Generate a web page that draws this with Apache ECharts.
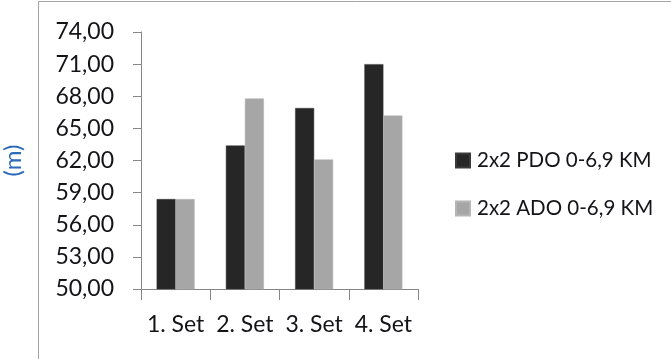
<!DOCTYPE html>
<html>
<head>
<meta charset="utf-8">
<script src="https://cdn.jsdelivr.net/npm/echarts@6/dist/echarts.min.js"></script>
<style>
  html, body { margin: 0; padding: 0; background: #ffffff; }
  #chart { width: 671px; height: 359px; }
</style>
</head>
<body>
<div id="chart"></div>
<script>
// Categories and series values (metres)
const categories = ['1. Set', '2. Set', '3. Set', '4. Set'];
const pdoValues = [58.4, 63.4, 66.9, 71.0];
const adoValues = [58.4, 67.8, 62.1, 66.2];
const seriesNames = ['2x2 PDO 0-6,9 KM', '2x2 ADO 0-6,9 KM'];

// Value axis range and step
const yMin = 50;
const yMax = 74;
const yStep = 3;

const FONT = 'Lato, "Open Sans", sans-serif';
const TEXT = '#141418';

const chart = echarts.init(document.getElementById('chart'), null, { renderer: 'canvas' });

chart.setOption({
  animation: false,
  backgroundColor: '#ffffff',
  graphic: [{
    type: 'rect',
    shape: { x: 38.5, y: 1.5, width: 700, height: 400 },
    style: { fill: 'none', stroke: '#a3a3a3', lineWidth: 1 },
    silent: true
  }],
  grid: { left: 140, right: 253, top: 32, bottom: 70, containLabel: false },
  legend: {
    orient: 'vertical',
    left: 455,
    top: 150,
    padding: 0,
    itemWidth: 14,
    itemHeight: 14,
    itemGap: 27,
    icon: 'rect',
    textStyle: { fontFamily: FONT, fontSize: 20.5, color: TEXT, padding: [0, 0, 0, 2] },
    data: seriesNames
  },
  xAxis: {
    type: 'category',
    data: categories,
    axisLine: { lineStyle: { color: '#868686', width: 1 } },
    axisTick: { show: true, length: 11, alignWithLabel: false, lineStyle: { color: '#868686' } },
    axisLabel: { fontFamily: FONT, fontSize: 23, color: TEXT, margin: 24, interval: 0 }
  },
  yAxis: {
    type: 'value',
    min: yMin,
    max: yMax,
    interval: yStep,
    name: '(m)',
    nameLocation: 'middle',
    nameRotate: 90,
    nameGap: 116,
    nameTextStyle: { fontFamily: FONT, fontSize: 24, color: '#2a6ab8' },
    axisLine: { show: true, lineStyle: { color: '#868686', width: 1 } },
    axisTick: { show: true, length: 8, lineStyle: { color: '#868686' } },
    splitLine: { show: false },
    axisLabel: {
      fontFamily: FONT, fontSize: 23, color: TEXT, margin: 27,
      formatter: v => v.toFixed(2).replace('.', ',')
    }
  },
  series: [
    {
      name: seriesNames[0],
      type: 'bar',
      data: pdoValues,
      barWidth: 19,
      barGap: '0%',
      itemStyle: { color: '#262626', borderColor: '#3a3a3a', borderWidth: 0.5 }
    },
    {
      name: seriesNames[1],
      type: 'bar',
      data: adoValues,
      barWidth: 19,
      barGap: '0%',
      itemStyle: { color: '#a6a6a6', borderColor: '#b5b5b5', borderWidth: 0.5 }
    }
  ]
});
</script>
</body>
</html>
